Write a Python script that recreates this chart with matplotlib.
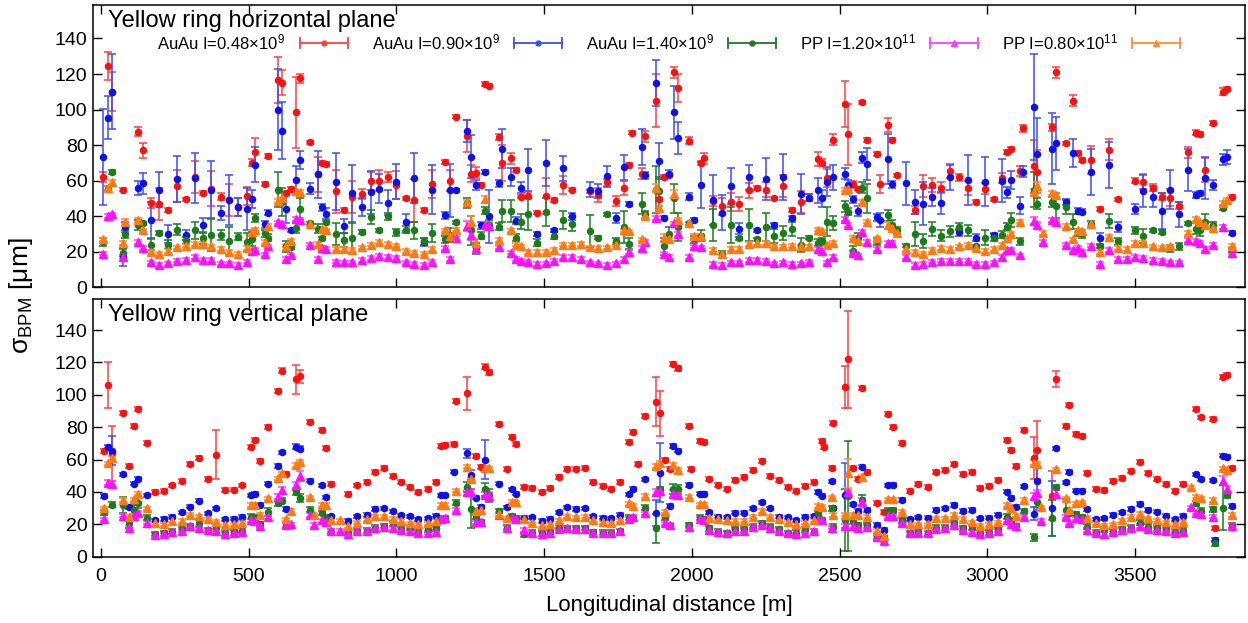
import numpy as np
import matplotlib
matplotlib.use('Agg')
import matplotlib.pyplot as plt
from matplotlib.lines import Line2D
from matplotlib.legend_handler import HandlerBase

nan = np.nan

# ---------------- horizontal plane ----------------
s_h = [8, 25, 39, 75, 81, 127, 143, 169, 197, 228,
       259, 287, 317, 345, 374, 405, 433, 464, 495, 511,
       523, 554, 564, 599, 613, 626, 644, 661, 674, 708,
       733, 747, 762, 795, 824, 851, 882, 913, 942, 972,
       1000, 1031, 1060, 1094, 1122, 1164, 1180, 1203, 1240, 1252,
       1269, 1286, 1300, 1314, 1348, 1359, 1389, 1404, 1421, 1446,
       1475, 1506, 1534, 1564, 1594, 1624, 1655, 1684, 1712, 1743,
       1771, 1788, 1799, 1833, 1842, 1878, 1890, 1906, 1923, 1940,
       1952, 1989, 2008, 2030, 2042, 2073, 2102, 2132, 2160, 2192,
       2222, 2250, 2278, 2309, 2338, 2369, 2397, 2427, 2439, 2458,
       2478, 2517, 2529, 2545, 2563, 2577, 2592, 2628, 2636, 2665,
       2679, 2696, 2724, 2755, 2784, 2813, 2843, 2874, 2903, 2934,
       2962, 2993, 3022, 3050, 3066, 3080, 3112, 3121, 3158, 3168,
       3187, 3220, 3232, 3268, 3290, 3307, 3322, 3352, 3381, 3413,
       3443, 3472, 3500, 3528, 3560, 3590, 3619, 3650, 3678, 3707,
       3721, 3738, 3763, 3798, 3811, 3828]

h_au048 = [62, 124.5, 110, 55, nan, 87.5, 77, 47.5, 47, 43.5,
           57, 49.5, 62, 53, 55.5, 51, 49, 45, 51.5, 70,
           76, 58, 74, 116.5, 115, 53, 55.5, 98.5, 117.5, 81.5,
           63.5, 70, 69.5, 54, 43.5, 51, 52.5, 60, 60, 62,
           57.5, 50, 49, 43.5, 58, 70.5, 60, 96, 85, 64,
           64.5, 57.5, 114.5, 113.5, 84.5, 70, 72.5, 66, 51, 51.5,
           42, 51.5, 49, 57.5, 55, nan, 54, 52, 59, 48.5,
           56, 69, 87, 64, 85, 105, 49.5, 62, 63, 121,
           112, 82.5, nan, 70, 72.5, 48.5, 45.5, 48, 47, 54.5,
           56, 55, 50, 57, 43.5, 48, 50.5, 72, 70, 61.5,
           83, 103, 86, 58, 55.5, 104, 83, 75, 58, 91.5,
           83, 63, nan, 43.5, 57, 57.5, 56, 65.5, 62, 56,
           48, 55.5, 49.5, 61.5, 76, 78, 65.5, 89.5, 68, 65,
           nan, 90, 121, 81, 105, 75.5, 71.5, 71.5, 44, 77.5,
           49.5, nan, 60, 59.5, 56, 51, 50.5, 46, 76, 87,
           86, 66, 92.5, 110, 111.5, 51]
e_h_au048 = [3, 8, 11, 1, 0, 2.5, 4, 3, 9, 1,
             9, 1, 9, 1, 10, 2, 9, 5, 5, 2,
             8, 1, 1, 13, 7, 1, 1, 20, 2.5, 1,
             10, 1, 1, 12, 1, 9, 3, 5, 6, 3,
             8, 1, 12, 1, 8, 1, 6, 1, 9, 5,
             3, 1, 1, 1, 1.5, 10, 3, 1, 1, 2,
             1, 10, 1, 5, 1, 0, 1, 4, 2, 3,
             4, 1, 1, 3, 3, 15, 1, 1, 1, 3,
             8, 2, 0, 1, 3, 3, 5, 5, 4, 4,
             1, 4, 1, 6, 1, 6, 2, 4, 2, 5,
             3, 13, 17, 2, 1, 1, 1, 1, 5, 4,
             1, 1, 0, 2, 6, 4, 3, 4, 2, 4,
             1, 3, 1, 3, 1, 1, 3, 2, 15, 12,
             0, 2, 3, 1, 3, 1, 1, 8, 1, 6,
             1, 0, 1.5, 4, 2, 2, 5, 2, 3, 1.5,
             1.5, 7, 1, 2, 1, 1]

h_au090 = [73.5, 95.5, 110, 17, 34, 56, 58.5, 38, 55, 30,
           61, 29.5, 61.5, 35, 55, 42, 49, 45, 44, 49.5,
           69, 35.5, 42, 100, 88, 44, 32, 60.5, 71.5, 55.5,
           63.5, 45, 41.5, 59.5, 34.5, 53, 45, 53.5, 55.5, 47.5,
           59.5, 36.5, 61.5, 25.5, 55, 40.5, 54.5, 54.5, 88, 73.5,
           57.5, 35, 65, 40, 58.5, 78, 62, 37.5, 56, 66,
           30, 70, 32, 67, 40, nan, 55, 54, 62.5, 39,
           67.5, 47, nan, 79, 63, 115, 71, 39, 64, 98.5,
           84, 51, 38, 57.5, nan, 49, 42, 57, 33, 62,
           32, 61, 35, 62, 39, 52.5, 50.5, 54.5, 50, 59.5,
           62, 64, 57.5, 49.5, 43, 73, 69.5, 39.5, 38, 72,
           58, nan, 58.5, 48, 47, 51, 47.5, 62, 31, 60.5,
           28, 59.5, 29.5, 60, 53.5, 60.5, 46, 65, 101.5, 75,
           nan, 78, 81, 48, 75.5, 43, 42.5, 65, 27.5, 69,
           34, nan, 44, 54, 51, 43, 55, 41, 66, 52,
           53, 61.5, 57.5, 72, 73.5, 30.5]
e_h_au090 = [27, 12, 21, 5, 3, 4, 6, 10, 10, 5,
             13, 3, 14, 4, 16, 4, 14, 5, 12, 5,
             10, 2, 1.5, 23, 16, 8, 1, 8, 5, 3,
             13, 2, 3, 16, 4, 16, 5, 12, 8, 7,
             10, 5, 14, 2, 14, 2, 15, 1, 6, 12,
             3, 2, 1, 15, 2, 11, 5, 2, 3, 12,
             1, 13, 1, 7, 2, 0, 4, 4, 6, 3,
             7, 1, 0, 10, 2, 13, 10, 1, 2, 15,
             9, 2, 1, 13, 0, 14, 10, 10, 3, 7,
             1, 12, 1, 13, 1, 11, 2, 7, 5, 8,
             7, 3, 3, 2, 3, 3, 9, 2, 4, 14,
             2, 0, 12, 7, 12, 5, 6, 7, 2, 14,
             2, 14, 1, 12, 3, 5, 5, 3, 30, 20,
             0, 20, 15, 1.5, 8, 1.5, 1.5, 13, 3, 13,
             3, 0, 3, 9, 6, 10, 11, 7, 12, 1.5,
             1, 12, 3, 3, 4, 1]

h_au140 = [25.5, 55.5, 65, 19.5, 30, 35, 36, 24, 30.5, 24,
           32.5, 26.5, 32, 27.5, 29.5, 29.5, 26, 28.5, 25.5, 27,
           39, 30.5, 28, 55, 48, 23, 22.5, 33.5, 44, 36,
           33, 27.5, 36.5, 30, 26.5, 28, 31, 39.5, 32, 40,
           31, 32.5, 32, 26, 30.5, 27, 29.5, 36.5, 47.5, 32,
           22, 29, 43, 35, 34, 43, 43, 28, 37, 41,
           25, 42.5, 29, 38, 35.5, nan, 31.5, 28, 41, 26,
           34, 24.5, nan, 47, 41, 55, 54, 23, 30, 50,
           34, 36, 27, 29, nan, 35, 18.5, 35, 27.5, 35,
           27, 34, 29, 30.5, 33, 24, 28, 25, 26, 37,
           36, 45.5, 42.5, 20.5, 27.5, 56, 50, 26, nan, 40.5,
           35, 32, 23.5, 30, 26, 33, 29, 31.5, 34, 32,
           23, 28, 28, 29.5, 34, 38, 26, nan, 55, 47,
           nan, 48, 46, 45, 37, 31, 30, 35.5, 23, 37.5,
           26, nan, 32, 29, 32, 31, 22, 23, 36, 33,
           32, 37, 35, 44.5, nan, 21]
e_h_au140 = [2, 1.5, 1, 2, 2, 3, 1, 3, 1, 2.5,
             3, 2, 5, 3, 9, 3, 8, 2, 5, 4,
             2, 2, 2, 10, 8, 3, 1, 3, 6, 1,
             2.5, 1, 1, 6, 4, 8, 1, 4, 1, 2,
             2, 2, 5, 2, 5, 2, 4, 1, 3, 8,
             3, 2, 2, 3, 2, 6, 6, 2, 4, 9,
             2, 8, 2, 5, 4, 0, 9, 1, 1, 2,
             9, 3, 0, 6, 2, 13, 8, 5, 4, 8,
             8, 1, 2, 3, 0, 9, 2, 10, 1, 9,
             1, 8, 4, 4, 4, 4, 1, 2, 2, 8,
             4, 3, 2, 3, 3, 3, 8, 2, 0, 3,
             3, 2, 1, 7, 4, 4, 3, 3, 2, 3,
             1, 4, 2, 2, 2, 4, 2, 0, 10, 3,
             0, 3, 7, 4, 4, 2, 2, 2, 1, 4,
             2, 0, 2, 4, 1, 1, 2, 2, 1, 3,
             3, 4, 2, 1, 0, 1]

h_pp120 = [19, 40, 41, 17, nan, 25.5, 22, 14, 12.5, 13.5,
           15, 15.5, 17, 15.5, 15.5, 13.5, 13.5, 12.5, 14.5, 20.5,
           21, 18.5, 23, 36.5, 35.5, 16, 18, 38.5, 38, 24,
           16, 22, 21.5, 14.5, 14, 14, 15.5, 16.5, 17.5, 17,
           16.5, 14, 13, 12.5, 14.5, 22, 16, 27.5, 34.5, 29.5,
           21.5, nan, 35, 34.5, 22.5, nan, 19.5, 16, 15, 14.5,
           13, 13.5, 15, 17, 17, 16, 14, 13.5, 12.5, 13.5,
           16, 20, nan, 22, 25.5, 39, nan, 19, 17, 36,
           30, 17, 23, 22.5, nan, 13, 12.5, 14, 14, 15.5,
           15.5, 15, 13.5, 14, 13, 13.5, 14.5, 21.5, 20.5, 14,
           17, 38.5, 35, 19.5, 18, 31, 25.5, 21.5, nan, 25,
           25, nan, 17, 12.5, 13, 14.5, 15, 15, 15, 15,
           13, 13, 14, 17, 21, 21, 18, nan, 37.5, 35,
           25.5, 38, 37, 24, 21, 22, 20, 23.5, 13, 21,
           16, 16, 17, 16.5, 15.5, 15, 14, 14, 26.5, 26,
           25, 21.5, 24, 34, nan, 19.5]
e_h_pp120 = [1, 1, 1, 1, 0, 1, 1, 1, 1, 1,
             1, 1, 1, 1, 1, 1, 1, 1, 1, 1,
             1, 1, 1, 1, 1, 1, 1, 1, 1, 1,
             1, 1, 1, 1, 1, 1, 1, 1, 1, 1,
             1, 1, 1, 1, 1, 1, 1, 1, 3, 3,
             1, 0, 2, 2, 1, 0, 1, 1, 1, 1,
             1, 1, 1, 1, 1, 1, 1, 1, 1, 1,
             1, 1, 0, 1, 1, 1, 0, 1, 1, 1,
             1, 1, 1, 1, 0, 1, 1, 1, 1, 1,
             1, 1, 1, 1, 1, 1, 1, 1, 1, 1,
             1, 1, 1, 1, 1, 1, 1, 1, 0, 1,
             1, 0, 1, 1, 1, 1, 1, 1, 1, 1,
             1, 1, 1, 1, 1, 1, 1, 0, 2, 2,
             1, 1, 1, 1, 1, 1, 1, 1, 1, 1,
             1, 1, 1, 1, 1, 1, 1, 1, 1, 1,
             1, 1, 1, 1, 0, 1]

h_pp080 = [27, 56, 59, 25, 37, 38, 32, 20, 19, 20.5,
           22.5, 23.5, 24.5, 24.5, 23, 21.5, 20, 19, 22, 31,
           32.5, 25.5, 34.5, 48.5, 50, 23.5, 26, 54, 53.5, 35.5,
           24.5, 33, 32, 21.5, 21.5, 21, 22.5, 24, 25.5, 24.5,
           23.5, 20.5, 19.5, 19, 21.5, 32, 29, 32.5, 48, 37,
           25, nan, 49.5, nan, 26.5, nan, 32, 24, 23, 20,
           20, 20, 21, 24, 24, 24.5, 22.5, 22, 22.5, 24,
           32, 31.5, nan, 27, 40, 56, 44.5, 28, 27, 52.5,
           38, 36, 29, 29, nan, 21, 19, 21.5, 21.5, 24.5,
           25, 25, 23, 23, 23.5, 23, 23, 32.5, 31.5, 24,
           25, 55, 55.5, 28, 26, 48, 37, 27.5, nan, 35,
           33.5, 30.5, 21.5, 20, 19, 21, 22, 21.5, 23, 24,
           22, 20.5, 21.5, 24, 28, 30, 37, nan, 53.5, 57,
           30.5, 53, 52, 34.5, 27, 32, 31.5, 35.5, 20, 28.5,
           22, 21.5, 25, 25, 23, 22.5, 23, nan, 30.5, 38.5,
           36.5, 35, 33.5, 47.5, 49, 23.5]
e_h_pp080 = [1, 1, 1.5, 1, 1.5, 1, 1, 1, 1, 1,
             1, 1, 1, 1, 1, 1, 1, 1, 1, 1,
             1, 1, 1, 1, 1, 1, 1, 1, 1, 1,
             1, 1, 1, 1, 1, 1, 1, 1, 1, 1,
             1, 1, 1, 1, 1, 1, 1, 1, 1, 3,
             2, 0, 2, 0, 1, 0, 1, 1, 1, 1,
             1, 1, 1, 1, 1, 1, 1, 1, 1, 1,
             1, 1, 0, 1, 1, 2, 1, 2, 1, 2,
             1, 1, 1, 1, 0, 1, 1, 1, 1, 1,
             1, 1, 1, 1, 1, 1, 1, 1, 1, 1,
             1, 1, 1, 1, 1, 1, 1, 1, 0, 2,
             1, 1, 1, 1, 1, 1, 1, 1, 1, 1,
             1, 1, 1, 1, 1, 1, 1, 0, 2, 2,
             1, 1, 1, 1, 1, 1, 1, 1, 1, 1,
             1, 1, 1, 1, 1, 1, 1, 0, 1, 1,
             1, 1, 1, 1, 1, 1]

# ---------------- vertical plane ----------------
s_v = [9, 25, 39, 73, 96, 112, 127, 155, 183, 214,
       242, 273, 303, 332, 361, 390, 419, 450, 478, 508,
       523, 540, 565, 599, 613, 626, 644, 661, 674, 708,
       722, 747, 762, 779, 809, 837, 865, 899, 927, 958,
       987, 1017, 1045, 1073, 1108, 1133, 1150, 1164, 1195, 1203,
       1240, 1252, 1269, 1286, 1300, 1314, 1348, 1373, 1391, 1404,
       1432, 1460, 1492, 1520, 1551, 1579, 1609, 1639, 1667, 1698,
       1726, 1756, 1788, 1802, 1819, 1842, 1878, 1891, 1909, 1925,
       1937, 1953, 1989, 1997, 2028, 2042, 2059, 2087, 2119, 2147,
       2177, 2208, 2237, 2264, 2296, 2324, 2354, 2384, 2413, 2428,
       2439, 2447, 2473, 2478, 2517, 2529, 2545, 2563, 2577, 2592,
       2628, 2651, 2665, 2681, 2711, 2739, 2767, 2798, 2826, 2857,
       2886, 2917, 2947, 2976, 3005, 3036, 3067, 3080, 3098, 3123,
       3158, 3168, 3183, 3220, 3232, 3268, 3277, 3302, 3322, 3338,
       3367, 3396, 3426, 3457, 3486, 3517, 3545, 3576, 3605, 3636,
       3664, 3689, 3707, 3723, 3763, 3770, 3798, 3811, 3828]

v_au048 = [65.5, 106, 64, 89, 56, 81, 91, 70, 40, 40.5,
           44, 47, 57, 61, 48, 63, 41, 41.5, 44, 68,
           72, 59, 80, 102.5, 115, 51, nan, 109.5, 111.6, 83,
           nan, 78, 67, 45, nan, 39, 44, 46, 52.5, 55,
           50, 46, 43, 40, 41.8, 45.9, 68.6, 69, 69.8, 96.4,
           100.9, nan, 62, 55.6, 117.4, 114, 82, 54, 74, 69.4,
           43, 42.4, 40, 42.2, 49.4, 54, 54, 55, 46, 43.6,
           42, 46, 70.6, 77, 57, 86.7, 95.7, 88.5, 60, 54,
           119, 116.3, 81, 54, 71.4, 71, 48, 44.3, 41.8, 47.3,
           49.4, 53.5, 59, 50, 47.3, 43.2, 40.8, 43.6, 46, nan,
           71.6, 68, 54.6, 82.8, 104.6, 122, 55, 48, 104, 52.5,
           33, 27.8, 88, 80, 70, 40.6, 45, 42.8, 52.5, 53.5,
           57.2, 50.9, 52.5, 42.2, 43.6, 47.3, 71.9, 65.9, 56, 78.2,
           61, 66, nan, 37.7, 110, 81, 93.7, 75.8, 74.7, 51.9,
           41.8, 41.2, 47, 48.4, 52.9, 58.3, 51.5, 48, 44.7, 40.8,
           44.7, nan, 91.2, 86, 85, 17.5, 110.8, 112, 55]
e_v_au048 = [1.2, 14, 17, 1.2, 1.2, 1.2, 1.2, 1.2, 1.2, 1.2,
             1.2, 1.2, 1.2, 1.2, 1.2, 15, 1.2, 1.2, 1.2, 1.2,
             1.2, 1.2, 1.2, 1.2, 1.5, 1.2, 0, 9, 4, 1.2,
             0, 1.2, 1.2, 1.2, 0, 1.2, 1.2, 1.2, 1.2, 1.2,
             1.2, 1.2, 1.2, 1.2, 1.2, 1.2, 1.2, 1.2, 1.2, 1.2,
             10, 0, 1.2, 1.2, 1.5, 1.5, 1.2, 1.2, 1.2, 1.2,
             1.2, 1.2, 1.2, 1.2, 1.2, 1.2, 1.2, 1.2, 1.2, 1.2,
             1.2, 1.2, 1.2, 1.2, 1.2, 1.2, 15, 14, 1.2, 1.2,
             1.5, 1.5, 1.2, 1.2, 1.2, 1.2, 1.2, 1.2, 1.2, 1.2,
             1.2, 1.2, 1.2, 1.2, 1.2, 1.2, 1.2, 1.2, 1.2, 0,
             1.2, 1.2, 1.2, 1.2, 13, 30, 1.2, 1.2, 1.2, 1.2,
             1.2, 1.2, 1.2, 1.2, 1.2, 1.2, 1.2, 1.2, 1.2, 1.2,
             1.2, 1.2, 1.2, 1.2, 1.2, 1.2, 1.2, 1.2, 1.2, 1.2,
             13, 18, 0, 15, 5, 1.2, 1.2, 1.2, 1.2, 1.2,
             1.2, 1.2, 1.2, 1.2, 1.2, 1.2, 1.2, 1.2, 1.2, 1.2,
             1.2, 0, 1.2, 1.2, 1.2, 1.2, 1.2, 1.2, 1.2]

v_au090 = [37.5, 68, 65.5, 51, 30.5, 45, 48, 38, 22.6, 23.3,
           24.7, 27.4, 31, 34.6, 26.8, 30, 23, 23.5, 24.5, 38,
           39, 32, 45, 56, 64.4, 29.4, nan, 68, 66.7, 47,
           nan, 44, 36.6, 25, nan, 22, 25, 25.7, 29.4, 30,
           28, 25.5, 25, 23, 23.7, 25.3, 38, 38, 52.5, nan,
           63.8, 50.4, 36.4, 31, 60, nan, 45, 30.5, 41.6, 39,
           24, 24.3, 22, 23.5, 27.4, 30.5, 29.4, 30, 25, 24,
           23.7, 26, 38.5, 41.8, nan, 47.8, 27.2, 52, nan, 31.3,
           68.4, 65.5, 44.3, nan, 39, 38.7, 27.4, 24.7, 24.3, 27.2,
           27.2, 30, 33.6, 30, 24.7, 24.3, 22.6, 24.7, 25, 40,
           37.7, nan, 46.5, 29.9, 38, nan, 32.3, 28.2, 55.6, 28.8,
           19.6, 16.5, 44, 44.3, 35, 23, 24.3, 24, 28.8, 30,
           32, 28.2, 28.8, 23.7, 24, 26, 40.1, 36.4, 31, 43.6,
           26.4, 47, nan, 29.9, 67, 46, 52.3, 40.8, 40.8, 29.2,
           23, 23.7, 25.7, 27.4, 29.4, 32.5, 28.8, 27.8, 25.3, 23,
           25.3, nan, 50.9, 47.8, 47.3, 10.3, 62.4, 61.8, 31.3]
e_v_au090 = [1, 1, 9, 1, 1, 1, 1, 1, 1, 1,
             1, 1, 1, 1, 1, 1, 1, 1, 1, 1,
             1, 1, 1, 1, 1.2, 1, 0, 1.5, 1.5, 1,
             0, 1, 1, 1, 0, 1, 1, 1, 1, 1,
             1, 1, 1, 1, 1, 1, 1, 1, 1, 0,
             3, 3, 1, 1, 12, 0, 1, 1, 1, 1,
             1, 1, 1, 1, 1, 1, 1, 1, 1, 1,
             1, 1, 1, 1, 0, 1, 8, 18, 0, 1,
             1, 1, 1, 0, 1, 1, 1, 1, 1, 1,
             1, 1, 1, 1, 1, 1, 1, 1, 1, 1,
             1, 0, 1, 1, 20, 0, 1, 1, 1, 1,
             1, 1, 1, 1, 1, 1, 1, 1, 1, 1,
             1, 1, 1, 1, 1, 1, 1, 1, 1, 1,
             4, 18, 0, 17, 1, 1, 1, 1, 1, 1,
             1, 1, 1, 1, 1, 1, 1, 1, 1, 1,
             1, 0, 1, 1, 1, 1, 1, 1, 1]

v_au140 = [27.4, nan, 32, 32, 20.6, 29, 33, 24, 14, 14.5,
           15.5, 17, 19, 21, 16.5, 18, 14.5, 15, 16, 24.7,
           24, 20, 27.8, 33, 34.6, 19.5, nan, 39.7, 36, 29,
           nan, 27, 24, 15.4, nan, 15, 16, 16, 18, 19,
           20.6, 17, 18, 15.4, 16.9, 17.5, 23.5, 23.7, nan, 33.4,
           43.2, 29.6, 24.7, 21.2, 41.6, 38, 28.2, 18, 25, 23.7,
           13.8, 14.8, 14.4, 15, 18, 17.5, 17.5, 17.7, 15, 14.8,
           14.8, 15.6, 24, 23.7, nan, 30.3, 17.5, 41.6, 24.3, 19,
           41.8, 41.6, 19.6, nan, 24, 23, 17.5, 15.4, 14.4, 16.9,
           16.9, 18.5, 20.6, 18.5, 16.9, 14.4, 14.8, 16.9, 15.4, 26.8,
           22.6, nan, 29.9, 18.5, 22.6, 37.5, 22, 19.6, 35, 19.4,
           12.4, 11.3, 28.4, 28.8, 22.6, 14.4, 15, 14.4, 18, 17.9,
           20.6, 17.5, 18, 14.8, 14.8, 16.9, 24.7, 22.2, 19, 28.2,
           12, 34, nan, 24, 43, 28.8, 26.8, 26.4, 24.3, 18.5,
           14.8, 16.5, 15.4, 16.9, 18, 21, 18.5, 17.5, 16.9, 15.4,
           16, nan, 33, 28.4, 29.2, 8.2, 30.3, 38, 19.1]
e_v_au140 = [1.5, 0, 1.5, 5, 3, 3, 3, 1.5, 1.5, 1.5,
             1.5, 1.5, 1.5, 2.5, 1.5, 2.5, 1.5, 1.5, 1.5, 1.5,
             1.5, 1.5, 2.5, 1.5, 1.5, 1.5, 0, 1.5, 2.5, 1.5,
             0, 1.5, 1.5, 1.5, 0, 1.5, 1.5, 1.5, 1.5, 1.5,
             1.5, 1.5, 1.5, 1.5, 1.5, 1.5, 1.5, 1.5, 0, 1.5,
             3, 12, 1.5, 1.5, 4, 4, 1.5, 1.5, 1.5, 1.5,
             1.5, 1.5, 1.5, 1.5, 1.5, 1.5, 1.5, 1.5, 1.5, 1.5,
             1.5, 1.5, 1.5, 1.5, 0, 1.5, 9, 1.5, 1.5, 1.5,
             3, 3, 1.5, 0, 1.5, 1.5, 1.5, 1.5, 1.5, 1.5,
             1.5, 1.5, 1.5, 1.5, 1.5, 1.5, 1.5, 1.5, 1.5, 1.5,
             1.5, 0, 1.5, 1.5, 19, 34, 1.5, 1.5, 3, 1.5,
             1.5, 1.5, 1.5, 1.5, 1.5, 1.5, 1.5, 1.5, 1.5, 1.5,
             1.5, 1.5, 1.5, 1.5, 1.5, 1.5, 1.5, 1.5, 1.5, 1.5,
             2, 3, 0, 11, 1.5, 7, 1.5, 1.5, 1.5, 1.5,
             1.5, 1.5, 1.5, 1.5, 1.5, 1.5, 1.5, 1.5, 1.5, 1.5,
             1.5, 0, 1.5, 1.5, 1.5, 1.5, 14, 1.5, 1.5]

v_pp120 = [23, 45.7, 45, 25.3, 18, 25.3, 27, 21, 13.4, 13.8,
           15, 16, 19, 18, 16.5, 16, 14, 14.4, 15, 22.6,
           22, 19, 24.3, 37, 41, 19.6, 20, 44.3, 49.8, 25.7,
           19.6, 22.6, 21.6, 16, 16, 13.8, 15.9, 15.9, 18, 18.5,
           17.5, 16.5, 16, 14.4, 14.8, 15.4, 23.5, 24, nan, 28.8,
           39.7, 40.1, 21.2, 21.2, 38, 37.7, 25.7, 17.9, 24, 23,
           16.5, 14.8, 14, 14.8, 16.9, 17.5, 17.3, 17.3, 14.8, 14.4,
           14.4, 15.9, 23.5, 24.7, nan, 26.8, 40, 40.6, 20.6, 19.6,
           39, 38, 18.5, nan, 23.5, 22.6, 16.5, 15.4, 14.4, 16,
           16, 18.5, 19.6, 18, 16, 14.4, 13.8, 14.8, 15.9, 22.6,
           22.6, nan, 18, nan, 19, 40, 19, 18, 34, 18.5,
           12, 9.9, 25, 25, 20.6, 14.4, 14.8, 14.8, 16.9, 17.5,
           19.6, 16.5, 15.4, 14, 14.4, 16, 22.6, 20, 19, 24.7,
           37.5, 39.5, 22.2, nan, 39, 25, 20.6, 23.7, 23, 16.5,
           14.4, 14, 15, 16.5, 17.9, 19, 16.9, 16.5, 16, 14.4,
           15.4, 30.5, 27.2, 26.4, 24.7, nan, 47, 41.8, 19]
e_v_pp120 = [1, 1.5, 1.5, 1, 1, 1, 1, 1, 1, 1,
             1, 1, 1, 1, 1, 1, 1, 1, 1, 1,
             1, 1, 1, 1.5, 2, 1, 1, 2, 3, 1,
             1, 1, 1, 1, 1, 1, 1, 1, 1, 1,
             1, 1, 1, 1, 1, 1, 1, 1, 0, 1,
             1.5, 2, 1, 1, 2, 2, 1, 1, 1, 1,
             1, 1, 1, 1, 1, 1, 1, 1, 1, 1,
             1, 1, 1, 1, 0, 1, 2, 1.5, 1, 1,
             2, 2, 1, 0, 1, 1, 1, 1, 1, 1,
             1, 1, 1, 1, 1, 1, 1, 1, 1, 1,
             1, 0, 1, 0, 1, 1.5, 1, 1, 2, 1,
             1, 1, 1, 1, 1, 1, 1, 1, 1, 1,
             1, 1, 1, 1, 1, 1, 1, 1, 1, 1,
             2, 2, 1, 0, 2, 1, 1, 1, 1, 1,
             1, 1, 1, 1, 1, 1, 1, 1, 1, 1,
             1, 1, 1, 1, 1, 0, 3, 2, 1]

v_pp080 = [30, 57.6, 61, 35, 24.7, 35.4, 39, 30, 20.6, 20,
           22.2, 22, 26, 25, 23, 21.6, 19.4, 20, 21, 32,
           32, 26, 36, 48.4, 51.5, 23, 28.5, 56.6, 58.7, 36.6,
           26, 32, 32, 22.6, 22.6, 19, 21, 23, 25, 25,
           23.5, 22, 20.6, 20, 20.6, 22, 32, 32, nan, 40.8,
           55.6, 47.8, 28.2, 28.8, 55, 54.6, 26.4, 23.7, 34, 33.6,
           23.3, 20.6, 19.6, 20, 22.6, 25, 24.3, 24.7, 22.6, 21.2,
           20.6, 22.6, 33, 31.3, nan, 37.5, 56, 57.6, 27.8, nan,
           56.6, 53.5, 37, nan, 32.3, 32.3, 24, 23, 22.6, 22.2,
           22.2, 24.7, 28.2, 24.7, 23, 21.2, 20, 21, 22.6, 31.3,
           30.9, nan, 36.6, 25.7, 26, 51.5, 26, 25.7, 49.4, 24.7,
           16, 12.8, 35.4, 35.4, 27.8, 20, 20, 20, 23.7, 23.7,
           25.7, 23.3, 21.2, 19.1, 20, 21.2, 32, 30, 25.3, 35,
           58, 57.2, 30.5, nan, 54, 36, 28.8, 33, 33.6, 24,
           20.6, 19.4, 20, 22.6, 24.7, 26.4, 23.7, 22.6, 21.2, 20,
           21.6, 42.8, 37, 36, 35, nan, 54.6, 53.5, 25.7]
e_v_pp080 = [1, 1, 1.5, 1.5, 1, 1, 1, 1, 1, 1,
             1, 1, 1, 1, 1, 1, 1, 1, 1, 1,
             1, 1, 1, 1, 1, 1, 1, 1, 1, 1,
             1, 1, 1, 1, 1, 1, 1, 1, 1, 1,
             1, 1, 1, 1, 1, 1, 1, 1, 0, 1,
             1, 1, 1, 1, 1, 1, 1, 1, 1, 1,
             1, 1, 1, 1, 1, 1, 1, 1, 1, 1,
             1, 1, 1, 1, 0, 1, 1.5, 1.5, 1, 0,
             1.5, 1.5, 1, 0, 1, 1, 1, 1, 1, 1,
             1, 1, 1, 1, 1, 1, 1, 1, 1, 1,
             1, 0, 1, 1, 1, 9, 1, 1, 1, 1,
             1, 1, 1, 1, 1, 1, 1, 1, 1, 1,
             1, 1, 1, 1, 1, 1, 1, 1, 1, 1,
             1.5, 1.5, 1, 0, 1, 1, 1, 1, 1, 1,
             1, 1, 1, 1, 1, 1, 1, 1, 1, 1,
             1, 1, 1, 1, 1, 0, 1, 1, 1]

labels = ['AuAu I=0.48×10$^{9}$', 'AuAu I=0.90×10$^{9}$', 'AuAu I=1.40×10$^{9}$',
          'PP I=1.20×10$^{11}$', 'PP I=0.80×10$^{11}$']
colors = ['#ff1010', '#1010e8', '#1c7c1c', '#ff10ff', '#ff7a12']
bar_colors = ['#ff4040', '#3c4cff', '#1c7c1c', '#ff40ff', '#ff8c34']
markers = ['o', 'o', 'o', '^', '^']
msizes = [4.4, 4.4, 4.4, 5.4, 5.4]

plt.rcParams['font.family'] = ['Liberation Sans', 'DejaVu Sans']
plt.rcParams['mathtext.default'] = 'regular'


class ErrKey(HandlerBase):
    # gnuplot-like key sample: horizontal bar with end caps and a marker in the middle
    def create_artists(self, legend, orig, xdescent, ydescent, width, height, fontsize, trans):
        y = height / 2 - ydescent
        x0, x1 = -xdescent, width - xdescent
        c = orig.get_color()
        bar = Line2D([x0, x1], [y, y], color=c, lw=1.3)
        caps = Line2D([x0, x0, nan, x1, x1], [y - 3.5, y + 3.5, nan, y - 3.5, y + 3.5], color=c, lw=1.3)
        dot = Line2D([(x0 + x1) / 2], [y], marker=orig.get_marker(), ms=orig.get_markersize(),
                     color=orig.get_markerfacecolor(), ls='none')
        for a in (bar, caps, dot):
            a.set_transform(trans)
        return [bar, caps, dot]


fig = plt.figure(figsize=(12.48, 6.23), dpi=100)
ax1 = fig.add_axes([0.0745, 0.5388, 0.923, 0.4537])
ax2 = fig.add_axes([0.0745, 0.1064, 0.923, 0.4132])

panels = [
    (ax1, s_h, [h_au048, h_au090, h_au140, h_pp120, h_pp080],
     [e_h_au048, e_h_au090, e_h_au140, e_h_pp120, e_h_pp080], 'Yellow ring horizontal plane', 0.922),
    (ax2, s_v, [v_au048, v_au090, v_au140, v_pp120, v_pp080],
     [e_v_au048, e_v_au090, e_v_au140, e_v_pp120, e_v_pp080], 'Yellow ring vertical plane', 0.915),
]

for ax, s, ys, es, title, ty in panels:
    for y, e, c, bc, m, ms in zip(ys, es, colors, bar_colors, markers, msizes):
        ax.errorbar(s, y, yerr=e, fmt=m, color=c, mec=c, ms=ms, ecolor=bc,
                    elinewidth=1.1, capsize=2.8, capthick=1.1)
    ax.set_xlim(-27, 3872)
    ax.set_ylim(0, 159)
    ax.set_xticks([0, 500, 1000, 1500, 2000, 2500, 3000, 3500])
    ax.set_yticks([0, 20, 40, 60, 80, 100, 120, 140])
    ax.tick_params(direction='in', length=6.5, width=1, top=True, right=True,
                   labelsize=14, pad=4)
    for sp in ax.spines.values():
        sp.set_linewidth(1.1)
    ax.text(0.013, ty, title, transform=ax.transAxes, fontsize=17, va='baseline', ha='left')

ax1.tick_params(labelbottom=False)
ax2.tick_params(axis='x', pad=8)
ax2.set_xlabel('Longitudinal distance [m]', fontsize=16, labelpad=7)

keys = [Line2D([], [], color=c, marker=m, ms=ms * 0.8, ls='none')
        for c, m, ms in zip(bar_colors, markers, msizes)]
ax1.legend(keys, labels, handler_map={Line2D: ErrKey()}, loc='center',
           bbox_to_anchor=(0.5, 0.868), ncol=5, frameon=False, markerfirst=False,
           fontsize=12, handlelength=2.9, handletextpad=0.85, columnspacing=1.4,
           borderpad=0, borderaxespad=0)

fig.text(0.017, 0.526, 'σ$_{BPM}$ [μm]', rotation=90, va='center', ha='center', fontsize=19)

fig.savefig('out.png', dpi=100)
